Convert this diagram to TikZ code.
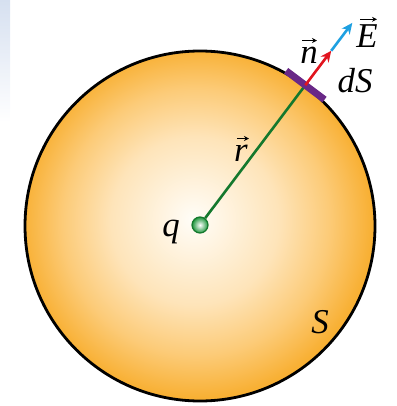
\documentclass[tikz,border=0pt]{standalone}
\usepackage{fontspec}
\setmainfont{Liberation Serif}
\usetikzlibrary{arrows.meta}
\definecolor{orangeedge}{RGB}{248,176,52}
\definecolor{orangeq}{RGB}{252,203,120}
\definecolor{orangemid}{RGB}{254,228,185}
\definecolor{orangecore}{RGB}{255,253,248}
\definecolor{rgreen}{RGB}{20,120,45}
\definecolor{dotgreen}{RGB}{30,150,60}
\definecolor{barpurple}{RGB}{105,40,135}
\definecolor{nred}{RGB}{225,20,30}
\definecolor{eblue}{RGB}{30,160,225}
\definecolor{stripblue}{RGB}{214,224,240}
\pgfdeclareradialshading{spherefill}{\pgfpoint{-1bp}{1bp}}{%
  color(0bp)=(orangecore); color(12bp)=(orangemid); color(19bp)=(orangeq);
  color(25bp)=(orangeedge); color(50bp)=(orangeedge)}
\tikzset{
  lbl/.style={inner sep=0pt, scale=1.4, font=\fontsize{24.88}{30}\selectfont\itshape},
  vecarrow/.style={line width=2.6pt, -{Stealth[length=11pt,width=10pt]}},
  accent/.style={line width=1.3pt, -{Stealth[length=5pt,width=5pt]}},
}
\begin{document}
\begin{tikzpicture}[x=1pt,y=-1pt]
\useasboundingbox (0,0) rectangle (396,406);
\shade[top color=stripblue, bottom color=white, draw=none] (0,0) rectangle (10,122);
% sphere
\shade[shading=spherefill, draw=black, line width=2.8pt]
  (200,226) circle[radius=175];
\coordinate (surf) at (305.3,85.2);
\coordinate (ntip) at (331.2,50.8);
\coordinate (etip) at (352.3,22.9);
\coordinate (barA) at (286.1,70.8);
\coordinate (barB) at (324.5,99.6);
\node[circle, minimum size=16pt, inner sep=0pt, draw=rgreen, line width=1.2pt,
  inner color=white, outer color=dotgreen] (qdot) at (200,225) {};
\draw[rgreen, line width=2.6pt] (qdot) -- (surf);
\draw[barpurple, line width=7pt] (barA) -- (barB);
\draw[vecarrow, nred] (surf) -- (ntip);
\draw[vecarrow, eblue] (ntip) -- (etip);
\node[lbl] (lq) at (171,232) {q};
\node[lbl] (lr) at (241,153) {r};
\node[lbl] (ln) at (309,55) {n};
\node[lbl] (lE) at (367,36) {E};
\node[lbl] (ldS) at (355,81) {dS};
\node[lbl] (lS) at (320,322) {S};
\draw[accent] ([xshift=-4pt,yshift=6pt]lr.north) -- ([xshift=8pt,yshift=6pt]lr.north);
\draw[accent] ([xshift=-7pt,yshift=6pt]ln.north) -- ([xshift=8pt,yshift=6pt]ln.north);
\draw[accent] ([xshift=-7pt,yshift=5pt]lE.north) -- ([xshift=10pt,yshift=5pt]lE.north);
\end{tikzpicture}
\end{document}
